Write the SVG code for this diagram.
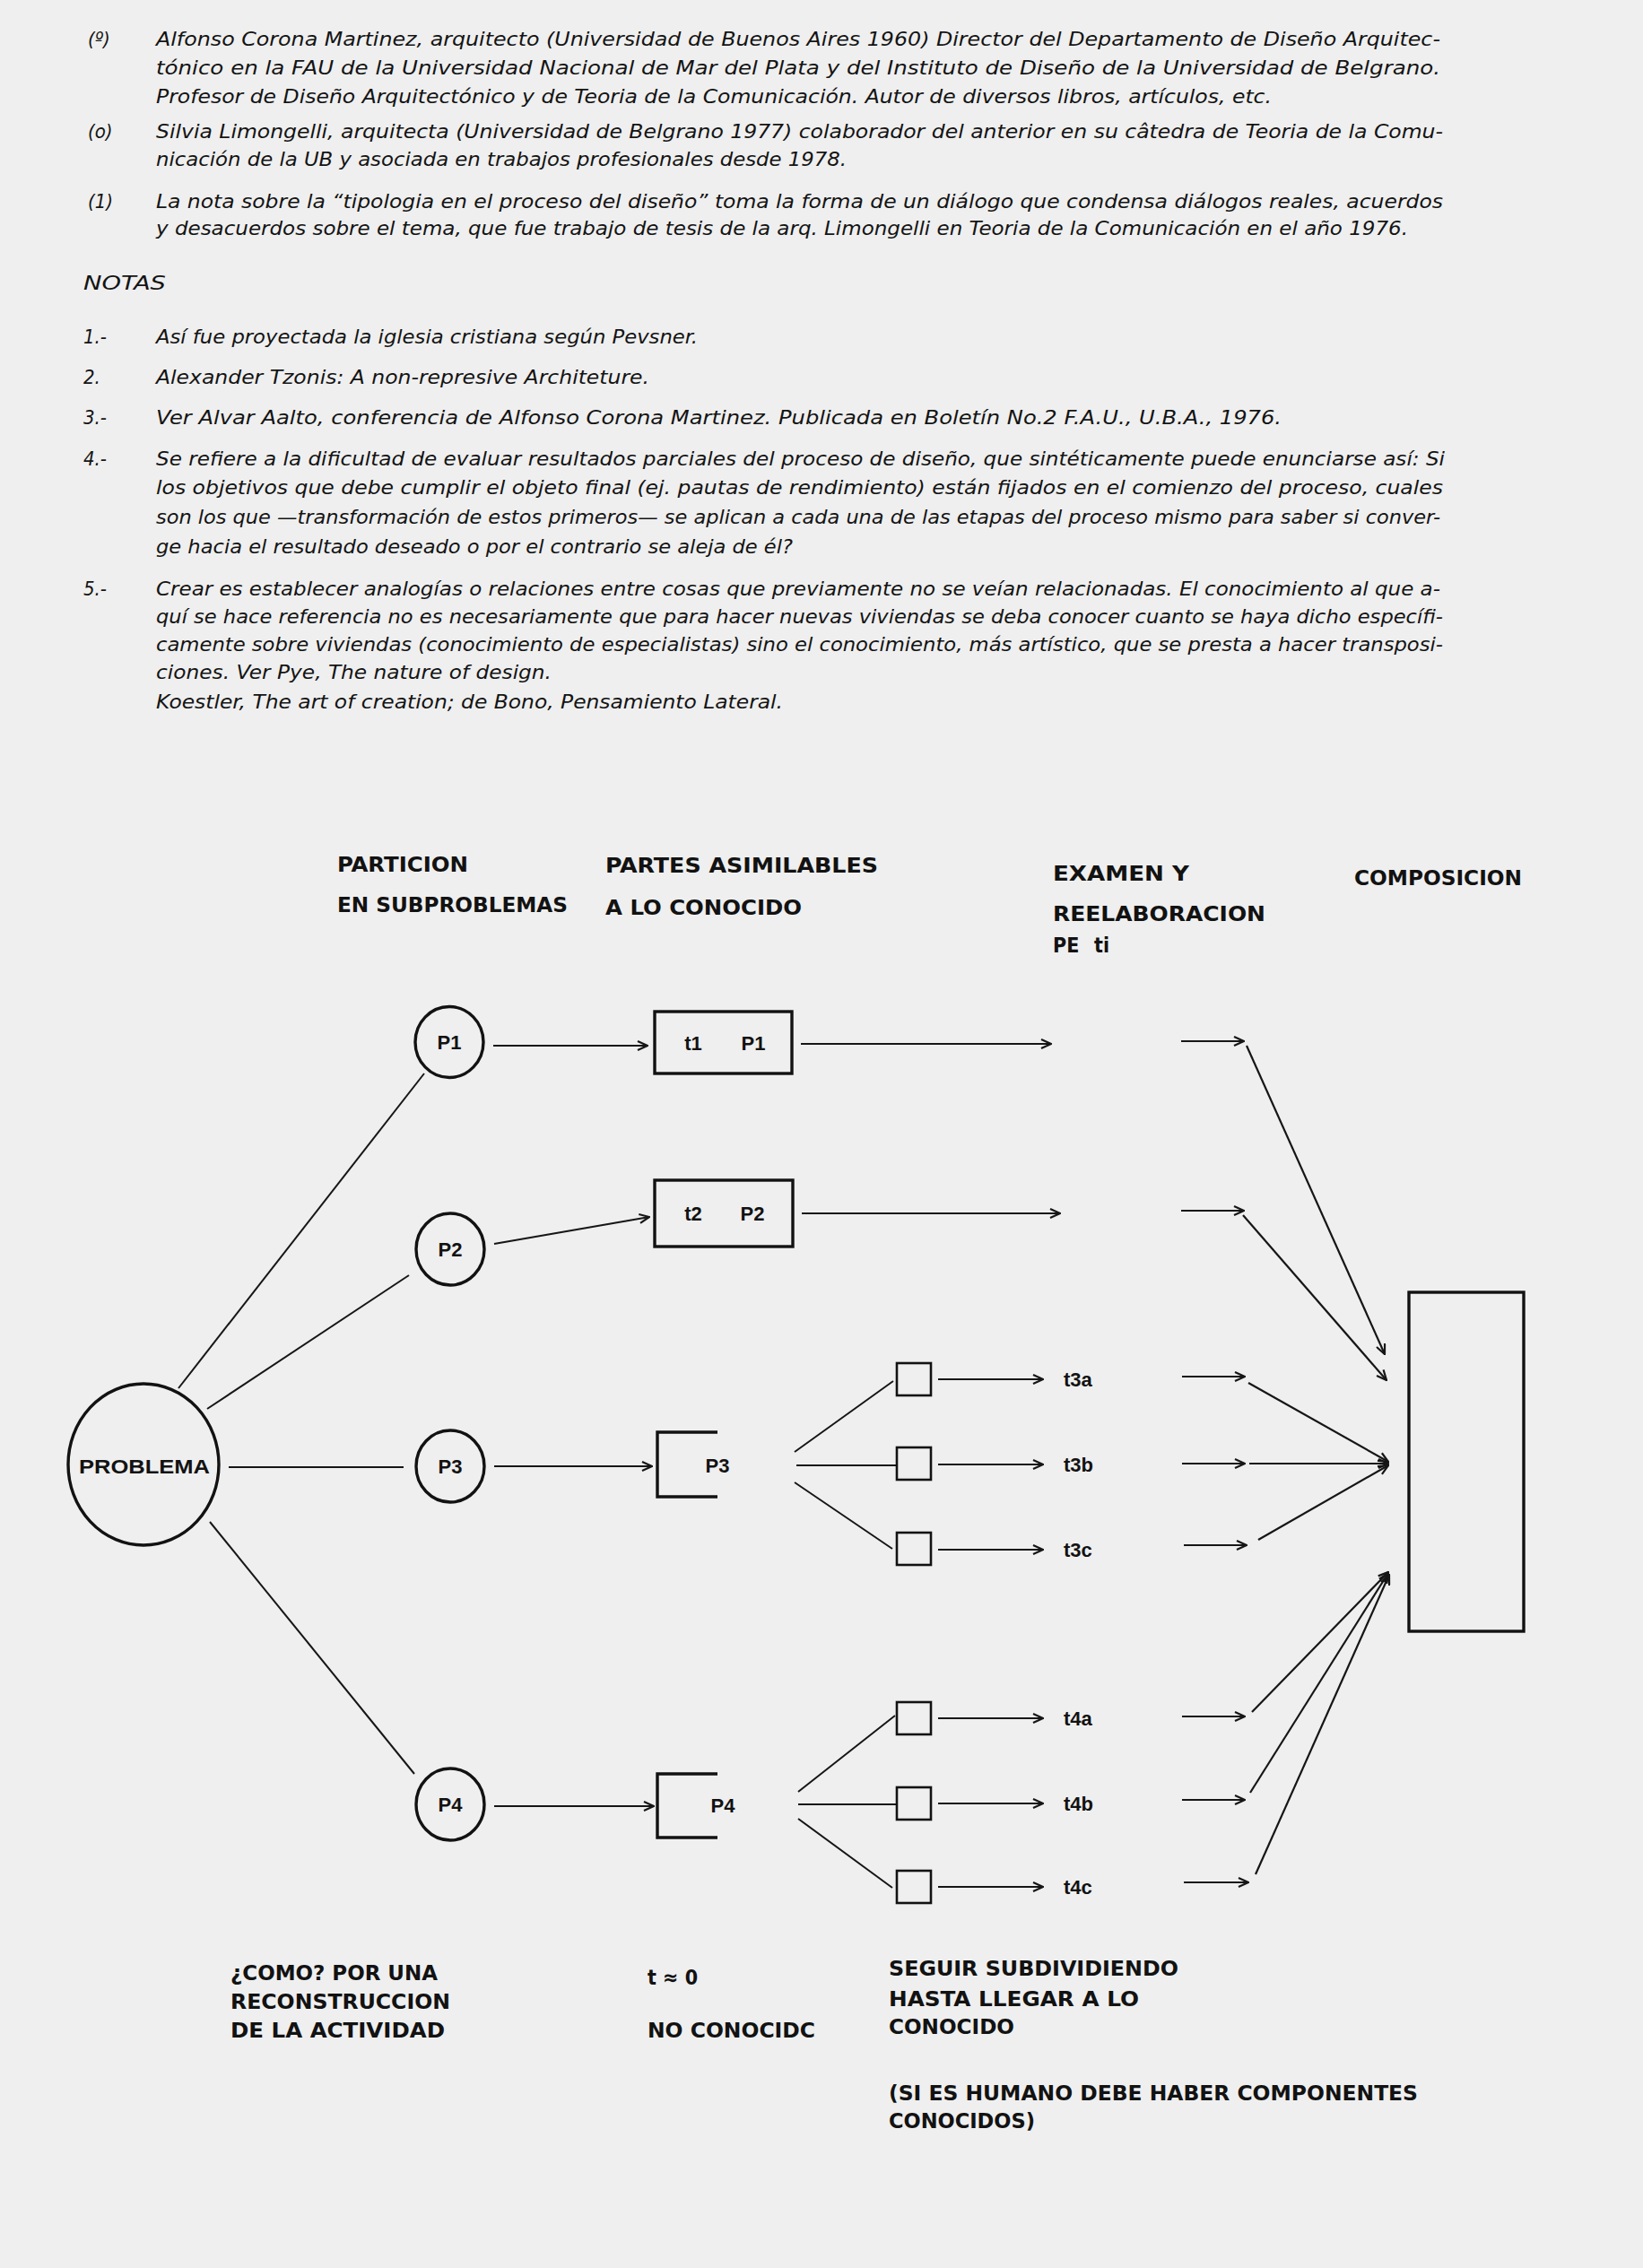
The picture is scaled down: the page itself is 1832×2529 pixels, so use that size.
<svg xmlns="http://www.w3.org/2000/svg" width="1832" height="2529" viewBox="0 0 1832 2529">
<defs>
<style>
.note{font-family:"Liberation Sans Narrow","DejaVu Sans Condensed","Liberation Sans",sans-serif;font-style:italic;font-size:22px;fill:#141414}
.hdr{font-family:"Liberation Sans Narrow","DejaVu Sans Condensed","Liberation Sans",sans-serif;font-weight:bold;font-size:23px;fill:#121212}
.lbl{font-family:"Liberation Sans","DejaVu Sans",sans-serif;font-weight:bold;font-size:22px;fill:#121212}
.ln{stroke:#161616;stroke-width:2;fill:none}
.ar{stroke:#161616;stroke-width:2.2;fill:none;marker-end:url(#ah)}
.nd{stroke:#121212;stroke-width:3.4;fill:none}
.sb{stroke:#121212;stroke-width:2.6;fill:none}
</style>
<marker id="ah" viewBox="0 0 14 12" refX="13" refY="6" markerWidth="14" markerHeight="12" markerUnits="userSpaceOnUse" orient="auto">
<path d="M2,1 L13,6 L2,11" fill="none" stroke="#161616" stroke-width="2.2"/>
</marker>
</defs>
<rect x="0" y="0" width="1832" height="2529" fill="#efefef"/>

<g id="notes">
<text class="note" x="98" y="51">(º)</text>
<text class="note" x="174" y="51" textLength="1432" lengthAdjust="spacingAndGlyphs">Alfonso Corona Martinez, arquitecto (Universidad de Buenos Aires 1960) Director del Departamento de Diseño Arquitec-</text>
<text class="note" x="174" y="83" textLength="1432" lengthAdjust="spacingAndGlyphs">tónico en la FAU de la Universidad Nacional de Mar del Plata y del Instituto de Diseño de la Universidad de Belgrano.</text>
<text class="note" x="174" y="115" textLength="1244" lengthAdjust="spacingAndGlyphs">Profesor de Diseño Arquitectónico y de Teoria de la Comunicación. Autor de diversos libros, artículos, etc.</text>
<text class="note" x="98" y="154">(o)</text>
<text class="note" x="174" y="154" textLength="1435" lengthAdjust="spacingAndGlyphs">Silvia Limongelli, arquitecta (Universidad de Belgrano 1977) colaborador del anterior en su câtedra de Teoria de la Comu-</text>
<text class="note" x="174" y="185" textLength="770" lengthAdjust="spacingAndGlyphs">nicación de la UB y asociada en trabajos profesionales desde 1978.</text>
<text class="note" x="98" y="232">(1)</text>
<text class="note" x="174" y="232" textLength="1435" lengthAdjust="spacingAndGlyphs">La nota sobre la “tipologia en el proceso del diseño” toma la forma de un diálogo que condensa diálogos reales, acuerdos</text>
<text class="note" x="174" y="262" textLength="1396" lengthAdjust="spacingAndGlyphs">y desacuerdos sobre el tema, que fue trabajo de tesis de la arq. Limongelli en Teoria de la Comunicación en el año 1976.</text>

<text class="note" x="93" y="323" textLength="92" lengthAdjust="spacingAndGlyphs">NOTAS</text>
<text class="note" x="93" y="383">1.-</text>
<text class="note" x="174" y="383" textLength="604" lengthAdjust="spacingAndGlyphs">Así fue proyectada la iglesia cristiana según Pevsner.</text>
<text class="note" x="93" y="428">2.</text>
<text class="note" x="174" y="428" textLength="550" lengthAdjust="spacingAndGlyphs">Alexander Tzonis: A non-represive Architeture.</text>
<text class="note" x="93" y="473">3.-</text>
<text class="note" x="174" y="473" textLength="1255" lengthAdjust="spacingAndGlyphs">Ver Alvar Aalto, conferencia de Alfonso Corona Martinez. Publicada en Boletín No.2 F.A.U., U.B.A., 1976.</text>
<text class="note" x="93" y="519">4.-</text>
<text class="note" x="174" y="519" textLength="1437" lengthAdjust="spacingAndGlyphs">Se refiere a la dificultad de evaluar resultados parciales del proceso de diseño, que sintéticamente puede enunciarse así: Si</text>
<text class="note" x="174" y="551" textLength="1435" lengthAdjust="spacingAndGlyphs">los objetivos que debe cumplir el objeto final (ej. pautas de rendimiento) están fijados en el comienzo del proceso, cuales</text>
<text class="note" x="174" y="584" textLength="1432" lengthAdjust="spacingAndGlyphs">son los que —transformación de estos primeros— se aplican a cada una de las etapas del proceso mismo para saber si conver-</text>
<text class="note" x="174" y="617" textLength="710" lengthAdjust="spacingAndGlyphs">ge hacia el resultado deseado o por el contrario se aleja de él?</text>
<text class="note" x="93" y="664">5.-</text>
<text class="note" x="174" y="664" textLength="1432" lengthAdjust="spacingAndGlyphs">Crear es establecer analogías o relaciones entre cosas que previamente no se veían relacionadas. El conocimiento al que a-</text>
<text class="note" x="174" y="695" textLength="1435" lengthAdjust="spacingAndGlyphs">quí se hace referencia no es necesariamente que para hacer nuevas viviendas se deba conocer cuanto se haya dicho específi-</text>
<text class="note" x="174" y="726" textLength="1435" lengthAdjust="spacingAndGlyphs">camente sobre viviendas (conocimiento de especialistas) sino el conocimiento, más artístico, que se presta a hacer transposi-</text>
<text class="note" x="174" y="757" textLength="441" lengthAdjust="spacingAndGlyphs">ciones. Ver Pye, The nature of design.</text>
<text class="note" x="174" y="790" textLength="699" lengthAdjust="spacingAndGlyphs">Koestler, The art of creation; de Bono, Pensamiento Lateral.</text>
</g>

<g id="headers">
<text class="hdr" x="376" y="972" textLength="146" lengthAdjust="spacingAndGlyphs">PARTICION</text>
<text class="hdr" x="376" y="1017" textLength="257" lengthAdjust="spacingAndGlyphs">EN SUBPROBLEMAS</text>
<text class="hdr" x="675" y="973" textLength="304" lengthAdjust="spacingAndGlyphs">PARTES ASIMILABLES</text>
<text class="hdr" x="675" y="1020" textLength="219" lengthAdjust="spacingAndGlyphs">A LO CONOCIDO</text>
<text class="hdr" x="1174" y="982" textLength="152" lengthAdjust="spacingAndGlyphs">EXAMEN Y</text>
<text class="hdr" x="1174" y="1027" textLength="237" lengthAdjust="spacingAndGlyphs">REELABORACION</text>
<text class="hdr" x="1174" y="1062">PE<tspan x="1220">ti</tspan></text>
<text class="hdr" x="1510" y="987" textLength="187" lengthAdjust="spacingAndGlyphs">COMPOSICION</text>
</g>

<g id="connectors">
<path class="ln" d="M199,1548 L473,1197"/>
<path class="ln" d="M231,1571 L456,1422"/>
<path class="ln" d="M255,1636 L450,1636"/>
<path class="ln" d="M234,1697 L462,1978"/>
<path class="ar" d="M550,1166 L722,1166"/>
<path class="ar" d="M551,1387 L724,1357"/>
<path class="ar" d="M551,1635 L727,1635"/>
<path class="ar" d="M551,2014 L729,2014"/>
<path class="ar" d="M893,1164 L1172,1164"/>
<path class="ar" d="M894,1353 L1182,1353"/>
<path class="ln" d="M886,1619 L996,1540 M888,1634 L999,1634 M886,1653 L995,1727"/>
<path class="ln" d="M890,1998 L998,1913 M890,2012 L1000,2012 M890,2028 L995,2105"/>
<path class="ar" d="M1046,1538 L1163,1538"/>
<path class="ar" d="M1046,1633 L1163,1633"/>
<path class="ar" d="M1046,1728 L1163,1728"/>
<path class="ar" d="M1046,1916 L1163,1916"/>
<path class="ar" d="M1046,2011 L1163,2011"/>
<path class="ar" d="M1046,2104 L1163,2104"/>
<path class="ar" d="M1317,1161 L1387,1161"/>
<path class="ar" d="M1317,1350 L1387,1350"/>
<path class="ar" d="M1318,1535 L1388,1535"/>
<path class="ar" d="M1318,1632 L1388,1632"/>
<path class="ar" d="M1320,1723 L1390,1723"/>
<path class="ar" d="M1318,1914 L1388,1914"/>
<path class="ar" d="M1318,2007 L1388,2007"/>
<path class="ar" d="M1320,2099 L1392,2099"/>
<path class="ar" d="M1390,1166 L1544,1510"/>
<path class="ar" d="M1386,1355 L1546,1539"/>
<path class="ar" d="M1392,1542 L1548,1630"/>
<path class="ar" d="M1393,1632 L1548,1632"/>
<path class="ar" d="M1403,1717 L1548,1634"/>
<path class="ar" d="M1396,1909 L1548,1753"/>
<path class="ar" d="M1394,1999 L1548,1754"/>
<path class="ar" d="M1400,2090 L1549,1756"/>
</g>

<g id="node-problema">
<ellipse class="nd" cx="160" cy="1633" rx="84" ry="90"/>
<text class="lbl" x="88" y="1643" textLength="146" lengthAdjust="spacingAndGlyphs">PROBLEMA</text>
</g>
<g id="node-p1">
<ellipse class="nd" cx="501" cy="1162" rx="38" ry="39.5"/>
<text class="lbl" x="501" y="1170" text-anchor="middle">P1</text>
</g>
<g id="node-p2">
<ellipse class="nd" cx="502" cy="1393" rx="38" ry="40"/>
<text class="lbl" x="502" y="1401" text-anchor="middle">P2</text>
</g>
<g id="node-p3">
<ellipse class="nd" cx="502" cy="1635" rx="38" ry="40"/>
<text class="lbl" x="502" y="1643" text-anchor="middle">P3</text>
</g>
<g id="node-p4">
<ellipse class="nd" cx="502" cy="2012" rx="38" ry="40"/>
<text class="lbl" x="502" y="2020" text-anchor="middle">P4</text>
</g>
<g id="node-t1p1">
<rect class="nd" x="730" y="1128" width="153" height="69"/>
<text class="lbl" x="773" y="1171" text-anchor="middle">t1</text>
<text class="lbl" x="840" y="1171" text-anchor="middle">P1</text>
</g>
<g id="node-t2p2">
<rect class="nd" x="730" y="1316" width="154" height="74"/>
<text class="lbl" x="773" y="1361" text-anchor="middle">t2</text>
<text class="lbl" x="839" y="1361" text-anchor="middle">P2</text>
</g>
<g id="node-p3-part">
<path class="nd" d="M800,1597 L733,1597 L733,1669 L800,1669"/>
<text class="lbl" x="800" y="1642" text-anchor="middle">P3</text>
</g>
<g id="node-p4-part">
<path class="nd" d="M800,1978 L733,1978 L733,2049 L800,2049"/>
<text class="lbl" x="806" y="2021" text-anchor="middle">P4</text>
</g>
<g id="node-t3a"><rect class="sb" x="1000" y="1520" width="38" height="36"/><text class="lbl" x="1186" y="1546">t3a</text></g>
<g id="node-t3b"><rect class="sb" x="1000" y="1614" width="38" height="36"/><text class="lbl" x="1186" y="1641">t3b</text></g>
<g id="node-t3c"><rect class="sb" x="1000" y="1709" width="38" height="36"/><text class="lbl" x="1186" y="1736">t3c</text></g>
<g id="node-t4a"><rect class="sb" x="1000" y="1898" width="38" height="36"/><text class="lbl" x="1186" y="1924">t4a</text></g>
<g id="node-t4b"><rect class="sb" x="1000" y="1993" width="38" height="36"/><text class="lbl" x="1186" y="2019">t4b</text></g>
<g id="node-t4c"><rect class="sb" x="1000" y="2086" width="38" height="36"/><text class="lbl" x="1186" y="2112">t4c</text></g>
<g id="node-composicion">
<rect class="nd" x="1571" y="1441" width="128" height="378"/>
</g>

<g id="footer">
<text class="hdr" x="257" y="2208" textLength="231" lengthAdjust="spacingAndGlyphs">¿COMO? POR UNA</text>
<text class="hdr" x="257" y="2240" textLength="245" lengthAdjust="spacingAndGlyphs">RECONSTRUCCION</text>
<text class="hdr" x="257" y="2272" textLength="239" lengthAdjust="spacingAndGlyphs">DE LA ACTIVIDAD</text>
<text class="hdr" x="722" y="2213">t ≈ 0</text>
<text class="hdr" x="722" y="2272" textLength="187" lengthAdjust="spacingAndGlyphs">NO CONOCIDC</text>
<text class="hdr" x="991" y="2203" textLength="323" lengthAdjust="spacingAndGlyphs">SEGUIR SUBDIVIDIENDO</text>
<text class="hdr" x="991" y="2237" textLength="279" lengthAdjust="spacingAndGlyphs">HASTA LLEGAR A LO</text>
<text class="hdr" x="991" y="2268" textLength="140" lengthAdjust="spacingAndGlyphs">CONOCIDO</text>
<text class="hdr" x="991" y="2342" textLength="590" lengthAdjust="spacingAndGlyphs">(SI ES HUMANO DEBE HABER COMPONENTES</text>
<text class="hdr" x="991" y="2373" textLength="163" lengthAdjust="spacingAndGlyphs">CONOCIDOS)</text>
</g>
</svg>
